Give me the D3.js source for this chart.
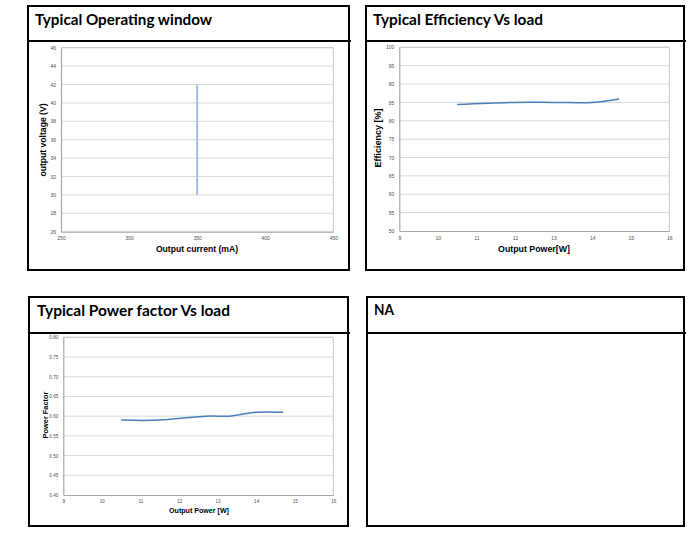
<!DOCTYPE html>
<html>
<head>
<meta charset="utf-8">
<script src="https://cdn.jsdelivr.net/npm/d3@7"></script>
<style>
  html, body { margin: 0; padding: 0; background: #fff; }
  svg { display: block; }
</style>
</head>
<body>
<svg id="chart" width="699" height="546"></svg>
<script>
// ---------- data ----------
const panelTitles = ["Typical Operating window", "Typical Efficiency Vs load", "Typical Power factor Vs load", "NA"];

const opCurrent = [350, 350];          // mA
const opVoltage = [30, 42];            // V
const currentTicks = [250, 300, 350, 400, 450];
const voltageTicks = [26, 28, 30, 32, 34, 36, 38, 40, 42, 44, 46];

const effPower = [10.5, 12, 13, 14, 14.7];      // W
const effValues = [84.4, 85, 85, 85, 85.9];      // %
const powerTicks = [9, 10, 11, 12, 13, 14, 15, 16];
const effTicks = [50, 55, 60, 65, 70, 75, 80, 85, 90, 95, 100];

const pfPower = [10.5, 11.5, 12.7, 13.3, 14.0, 14.7];
const pfValues = [0.59, 0.59, 0.60, 0.60, 0.61, 0.61];
const pfTicks = [0.40, 0.45, 0.50, 0.55, 0.60, 0.65, 0.70, 0.75, 0.80];

// ---------- layout ----------
const svg = d3.select("#chart");
svg.append("rect").attr("width", 699).attr("height", 546).attr("fill", "#fff");

const panels = [
  {x0: 28, x1: 349, y0: 6, y1: 270, div: 41, tx: 35, ty: 25, tw: 177},
  {x0: 366, x1: 684, y0: 6, y1: 270, div: 41, tx: 373, ty: 25, tw: 170},
  {x0: 29, x1: 348, y0: 297, y1: 526, div: 333, tx: 37, ty: 316, tw: 193},
  {x0: 367, x1: 684, y0: 297, y1: 526, div: 333, tx: 374, ty: 315, tw: 20}
];

panels.forEach((p, i) => {
  svg.append("rect")
    .attr("x", p.x0).attr("y", p.y0)
    .attr("width", p.x1 - p.x0).attr("height", p.y1 - p.y0)
    .attr("fill", "none").attr("stroke", "#000").attr("stroke-width", 2);
  svg.append("line")
    .attr("x1", p.x0).attr("x2", p.x1 + 2)
    .attr("y1", p.div).attr("y2", p.div)
    .attr("stroke", "#000").attr("stroke-width", 2);
  svg.append("text")
    .attr("x", p.tx).attr("y", p.ty)
    .attr("font-family", "Lato, 'Open Sans', sans-serif")
    .attr("font-weight", "bold")
    .attr("font-size", 15.5)
    .attr("textLength", p.tw)
    .attr("lengthAdjust", "spacingAndGlyphs")
    .attr("fill", "#000")
    .text(panelTitles[i]);
});

// ---------- chart helper ----------
function drawChart(cfg) {
  const x = d3.scaleLinear().domain(cfg.xDomain).range([cfg.left, cfg.right]);
  const y = d3.scaleLinear().domain(cfg.yDomain).range([cfg.bottom, cfg.top]);
  const g = svg.append("g");

  // gridlines
  g.append("g").selectAll("line").data(cfg.yTicks.slice(1)).join("line")
    .attr("x1", cfg.left).attr("x2", cfg.right)
    .attr("y1", d => y(d)).attr("y2", d => y(d))
    .attr("stroke", "#d9d9d9").attr("stroke-width", 1);

  // plot border (top & right)
  g.append("path")
    .attr("d", `M${cfg.left},${cfg.top}H${cfg.right}V${cfg.bottom}`)
    .attr("fill", "none").attr("stroke", "#c8c8c8").attr("stroke-width", 1);

  // axes
  const xAxis = d3.axisBottom(x).tickValues(cfg.xTicks).tickSize(0).tickPadding(5)
    .tickFormat(cfg.xFormat || d3.format("d"));
  const yAxis = d3.axisLeft(y).tickValues(cfg.yTicks).tickSize(0).tickPadding(5)
    .tickFormat(cfg.yFormat || d3.format("d"));

  const gx = g.append("g").attr("transform", `translate(0,${cfg.bottom})`).call(xAxis);
  const gy = g.append("g").attr("transform", `translate(${cfg.left},0)`).call(yAxis);
  [gx, gy].forEach(a => {
    a.select(".domain").attr("stroke", "#a6a6a6").attr("stroke-width", 1.2);
    a.selectAll("text")
      .attr("font-family", "'Liberation Sans', Arial, sans-serif")
      .attr("font-size", cfg.tickSize).attr("fill", "#4d4d4d");
  });

  // axis titles
  g.append("text")
    .attr("x", cfg.xTitlePos[0]).attr("y", cfg.xTitlePos[1])
    .attr("text-anchor", "middle")
    .attr("font-family", "'Liberation Sans', Arial, sans-serif")
    .attr("font-weight", "bold").attr("font-size", cfg.xTitleSize)
    .attr("fill", "#000").text(cfg.xTitle);
  g.append("text")
    .attr("transform", `translate(${cfg.yTitlePos[0]},${cfg.yTitlePos[1]}) rotate(-90)`)
    .attr("text-anchor", "middle").attr("dy", "0.35em")
    .attr("font-family", "'Liberation Sans', Arial, sans-serif")
    .attr("font-weight", "bold").attr("font-size", cfg.yTitleSize)
    .attr("fill", "#000").text(cfg.yTitle);

  // series
  const pts = cfg.xs.map((v, i) => [v, cfg.ys[i]]);
  const line = d3.line().x(d => x(d[0])).y(d => y(d[1])).curve(cfg.curve || d3.curveLinear);
  g.append("path").datum(pts)
    .attr("d", line)
    .attr("fill", "none")
    .attr("stroke", cfg.color)
    .attr("stroke-width", cfg.lineWidth)
    .attr("stroke-linecap", "butt");
}

drawChart({
  left: 61, right: 333.3, top: 47.7, bottom: 231.7,
  xDomain: [250, 450], yDomain: [26, 46],
  xTicks: currentTicks, yTicks: voltageTicks,
  tickSize: 5,
  xTitle: "Output current (mA)", xTitlePos: [197, 252], xTitleSize: 8.6,
  yTitle: "output voltage (V)", yTitlePos: [43, 140], yTitleSize: 8.6,
  xs: opCurrent, ys: opVoltage,
  color: "#9dc3e6", lineWidth: 2
});

drawChart({
  left: 399.3, right: 669.3, top: 47.3, bottom: 231,
  xDomain: [9, 16], yDomain: [50, 100],
  xTicks: powerTicks, yTicks: effTicks,
  tickSize: 5,
  xTitle: "Output Power[W]", xTitlePos: [534, 252], xTitleSize: 8.8,
  yTitle: "Efficiency [%]", yTitlePos: [378, 138], yTitleSize: 9,
  xs: effPower, ys: effValues, curve: d3.curveCardinal.tension(0),
  color: "#4a7ebb", lineWidth: 1.5
});

drawChart({
  left: 63.3, right: 333.3, top: 337.3, bottom: 495,
  xDomain: [9, 16], yDomain: [0.40, 0.80],
  xTicks: powerTicks, yTicks: pfTicks, yFormat: d3.format(".2f"),
  tickSize: 4.6,
  xTitle: "Output Power [W]", xTitlePos: [199, 512.5], xTitleSize: 7.1,
  yTitle: "Power Factor", yTitlePos: [45, 415], yTitleSize: 7.4,
  xs: pfPower, ys: pfValues, curve: d3.curveCardinal.tension(0),
  color: "#4a7ebb", lineWidth: 1.5
});
</script>
</body>
</html>
